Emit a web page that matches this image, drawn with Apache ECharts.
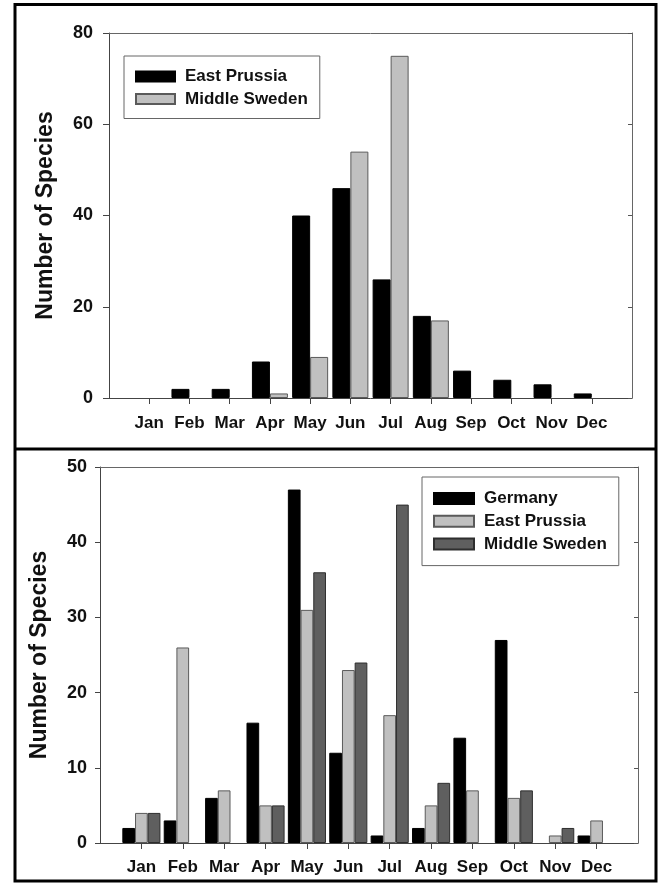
<!DOCTYPE html>
<html>
<head>
<meta charset="utf-8">
<script src="https://cdn.jsdelivr.net/npm/echarts@6/dist/echarts.min.js"></script>
<style>
  html, body { margin: 0; padding: 0; background: #fff; }
  #chart { width: 658px; height: 884px; }
</style>
</head>
<body>
<div id="chart"></div>
<script>
// Month categories shared by both panels
const months = ['Jan', 'Feb', 'Mar', 'Apr', 'May', 'Jun', 'Jul', 'Aug', 'Sep', 'Oct', 'Nov', 'Dec'];

// Upper panel: number of species per month
const upperEastPrussia = [0, 2, 2, 8, 40, 46, 26, 18, 6, 4, 3, 1];
const upperMiddleSweden = [0, 0, 0, 1, 9, 54, 75, 17, 0, 0, 0, 0];
const upperTicks = [0, 20, 40, 60, 80];

// Lower panel: number of species per month
const lowerGermany = [2, 3, 6, 16, 47, 12, 1, 2, 14, 27, 0, 1];
const lowerEastPrussia = [4, 26, 7, 5, 31, 23, 17, 5, 7, 6, 1, 3];
const lowerMiddleSweden = [4, 0, 0, 5, 36, 24, 45, 8, 0, 7, 2, 0];
const lowerTicks = [0, 10, 20, 30, 40, 50];

const FONT = '"Liberation Sans", Arial, sans-serif';
const monthPositions = months.map((m, i) => i + 1);

// zero counts draw no bar
const toPoints = arr => arr.map((v, i) => [i + 1, v === 0 ? null : v]);

const BLACK = { color: '#000000', borderColor: '#000000', borderWidth: 1 };
const LIGHT = { color: '#c0c0c0', borderColor: '#5a5a5a', borderWidth: 1 };
const DARK = { color: '#5f5f5f', borderColor: '#2e2e2e', borderWidth: 1 };

function monthAxis(gridIndex, margin) {
  return {
    gridIndex, type: 'value', position: 'bottom', min: 0, max: 13,
    axisLine: { show: true, onZero: false, lineStyle: { color: '#444', width: 1 } },
    axisTick: { show: true, customValues: monthPositions, length: 6, lineStyle: { color: '#444' } },
    axisLabel: {
      customValues: monthPositions,
      formatter: v => months[Math.round(v) - 1] || '',
      margin, fontSize: 17, fontWeight: 'bold', fontFamily: FONT, color: '#111'
    },
    splitLine: { show: false }
  };
}
function topFrame(gridIndex) {
  return {
    gridIndex, type: 'value', position: 'top', min: 0, max: 13,
    axisLine: { show: true, onZero: false, lineStyle: { color: '#666', width: 1 } },
    axisTick: { show: false }, axisLabel: { show: false }, splitLine: { show: false }
  };
}
function countAxis(gridIndex, ticks, margin, nameGap, tickLen) {
  return {
    gridIndex, type: 'value', position: 'left',
    min: ticks[0], max: ticks[ticks.length - 1], interval: ticks[1] - ticks[0],
    name: 'Number of Species', nameLocation: 'middle', nameGap,
    nameTextStyle: { fontSize: 23, fontWeight: 'bold', fontFamily: FONT, color: '#111' },
    axisLine: { show: true, onZero: false, lineStyle: { color: '#444', width: 1 } },
    axisTick: { show: true, length: tickLen, lineStyle: { color: '#444' } },
    axisLabel: { margin, fontSize: 18, fontWeight: 'bold', fontFamily: FONT, color: '#111' },
    splitLine: { show: false }
  };
}
function rightFrame(gridIndex, ticks) {
  return {
    gridIndex, type: 'value', position: 'right',
    min: ticks[0], max: ticks[ticks.length - 1], interval: ticks[1] - ticks[0],
    axisLine: { show: true, onZero: false, lineStyle: { color: '#666', width: 1 } },
    axisTick: { show: true, inside: true, length: 4, lineStyle: { color: '#555' } },
    axisLabel: { show: false }, splitLine: { show: false }
  };
}
function legendText() {
  return { fontSize: 17, fontWeight: 'bold', fontFamily: FONT, color: '#111', lineHeight: 17, padding: [0, 0, 0, 5] };
}

const option = {
  animation: false,
  backgroundColor: '#ffffff',
  grid: [
    { left: 109, right: 26, top: 33, bottom: 486 },
    { left: 100, right: 20, top: 467, bottom: 41 }
  ],
  xAxis: [monthAxis(0, 17), topFrame(0), monthAxis(1, 16), topFrame(1)],
  yAxis: [
    countAxis(0, upperTicks, 16, 52, 6), rightFrame(0, upperTicks),
    countAxis(1, lowerTicks, 13, 49, 5), rightFrame(1, lowerTicks)
  ],
  legend: [
    {
      data: ['East Prussia', 'Middle Sweden'],
      orient: 'vertical', left: 124, top: 56,
      padding: [12, 12, 11, 11], itemGap: 5.5,
      itemWidth: 39, itemHeight: 10, icon: 'rect',
      borderColor: '#666', borderWidth: 1,
      textStyle: legendText()
    },
    {
      data: ['Germany', 'East Prussia ', 'Middle Sweden '],
      orient: 'vertical', left: 422, top: 477,
      padding: [13, 12, 13, 11], itemGap: 5.8,
      itemWidth: 40, itemHeight: 11, icon: 'rect',
      borderColor: '#666', borderWidth: 1,
      textStyle: legendText(),
      formatter: n => n.trim()
    }
  ],
  graphic: [
    { type: 'rect', z: 100, shape: { x: 15, y: 4.5, width: 641, height: 876.5 },
      style: { fill: 'none', stroke: '#000', lineWidth: 3 } },
    { type: 'line', z: 100, shape: { x1: 15, y1: 449, x2: 656, y2: 449 },
      style: { stroke: '#000', lineWidth: 3 } }
  ],
  series: [
    { name: 'East Prussia', type: 'bar', xAxisIndex: 0, yAxisIndex: 0, barWidth: 18, barGap: '0%',
      itemStyle: BLACK, data: toPoints(upperEastPrussia) },
    { name: 'Middle Sweden', type: 'bar', xAxisIndex: 0, yAxisIndex: 0, barWidth: 18, barGap: '0%',
      itemStyle: LIGHT, data: toPoints(upperMiddleSweden) },
    { name: 'Germany', type: 'bar', xAxisIndex: 2, yAxisIndex: 2, barWidth: 12.7, barGap: '0%',
      itemStyle: BLACK, data: toPoints(lowerGermany) },
    { name: 'East Prussia ', type: 'bar', xAxisIndex: 2, yAxisIndex: 2, barWidth: 12.7, barGap: '0%',
      itemStyle: LIGHT, data: toPoints(lowerEastPrussia) },
    { name: 'Middle Sweden ', type: 'bar', xAxisIndex: 2, yAxisIndex: 2, barWidth: 12.7, barGap: '0%',
      itemStyle: DARK, data: toPoints(lowerMiddleSweden) }
  ]
};

const chart = echarts.init(document.getElementById('chart'), null, { renderer: 'canvas' });
chart.setOption(option);
</script>
</body>
</html>
